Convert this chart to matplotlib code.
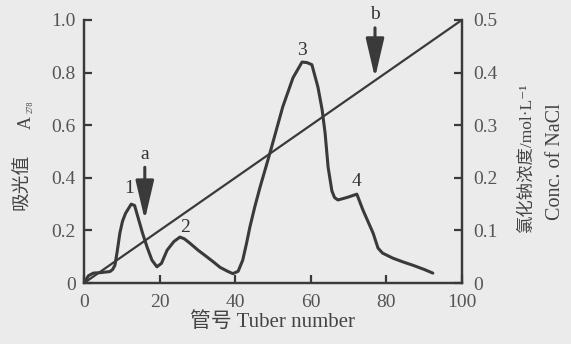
import matplotlib.pyplot as plt

# elution profile: absorbance of each tube
tube = [0, 1.2, 2.5, 4.5, 6.9, 7.6, 8.2, 8.8, 9.5, 10.2, 11.0, 12.5, 13.4, 14.3, 15.5,
        16.7, 18.0, 19.3, 20.5, 22.0, 23.8, 25.4, 26.6, 28.0, 30.2, 32.5, 34.3, 36.0,
        38.0, 39.4, 40.8, 42.0, 43.0, 43.9, 45.2, 46.6, 49.2, 52.6, 55.3, 57.7, 59.0,
        60.3, 61.9, 63.0, 63.8, 64.6, 65.6, 66.3, 67.2, 69.5, 72.2, 73.8, 76.5, 77.8,
        79.0, 81.7, 84.5, 87.0, 90.0, 92.3]
absorb = [0.0, 0.028, 0.038, 0.040, 0.044, 0.052, 0.068, 0.12, 0.19, 0.235, 0.265, 0.30,
          0.295, 0.25, 0.19, 0.137, 0.087, 0.062, 0.075, 0.125, 0.158, 0.175, 0.168,
          0.152, 0.125, 0.10, 0.08, 0.06, 0.045, 0.036, 0.045, 0.087, 0.15, 0.213, 0.29,
          0.365, 0.494, 0.67, 0.78, 0.84, 0.838, 0.83, 0.745, 0.66, 0.57, 0.44, 0.35,
          0.325, 0.316, 0.325, 0.338, 0.278, 0.19, 0.133, 0.114, 0.095, 0.08, 0.068,
          0.052, 0.038]

# NaCl gradient
grad_tube = [0, 100]
grad_conc = [0.0, 0.5]

peak_names = ['1', '2', '3', '4']
peak_x = [11.9, 26.7, 57.7, 72.0]
peak_y = [0.36, 0.21, 0.885, 0.385]

arrow_names = ['a', 'b']
arrow_x = [16.1, 77.0]
arrow_tip = [0.24, 0.78]
arrow_top = [0.44, 0.97]

ink = '#3a3a3a'
paper = '#ebebeb'
serif = ['Liberation Serif', 'Noto Sans CJK SC', 'DejaVu Sans']

fig = plt.figure(figsize=(5.71, 3.44), dpi=100, facecolor=paper)
ax = fig.add_axes([0.147, 0.177, 0.662, 0.765])
ax.set_facecolor(paper)
ax2 = ax.twinx()

ax.plot(tube, absorb, color=ink, lw=2.2, solid_joinstyle='round', solid_capstyle='round')
ax2.plot(grad_tube, grad_conc, color=ink, lw=1.6)

ax.set_xlim(0, 100)
ax.set_ylim(0, 1.0)
ax2.set_ylim(0, 0.5)

for a in (ax, ax2):
    a.spines['top'].set_visible(False)
    for s in ('left', 'right', 'bottom'):
        a.spines[s].set_color(ink)
        a.spines[s].set_linewidth(1.6)

ax.set_xticks([0, 20, 40, 60, 80, 100])
ax.set_yticks([0, 0.2, 0.4, 0.6, 0.8, 1.0])
ax.set_yticklabels(['0', '0.2', '0.4', '0.6', '0.8', '1.0'])
ax2.set_yticks([0, 0.1, 0.2, 0.3, 0.4, 0.5])
ax2.set_yticklabels(['0', '0.1', '0.2', '0.3', '0.4', '0.5'])

ax.tick_params(axis='both', direction='in', length=6, width=1.6, color=ink,
               labelcolor='#555555', labelsize=14)
ax.tick_params(axis='y', pad=6)
ax.tick_params(axis='x', pad=8)
ax2.tick_params(axis='y', direction='in', length=6, width=1.6, color=ink,
                labelcolor='#555555', labelsize=14, pad=8)
for lbl in ax.get_xticklabels() + ax.get_yticklabels() + ax2.get_yticklabels():
    lbl.set_family(serif)

ax.set_xlabel('管号 Tuber number', family=serif, fontsize=15, color='#444444', labelpad=1)

# left axis title, with a small 278 subscript next to the A
fig.text(0.040, 0.47, '吸光值', rotation=90, ha='center', va='center',
         family=serif, fontsize=13.5, color='#444444')
fig.text(0.046, 0.643, 'A', rotation=90, ha='center', va='center',
         family=serif, fontsize=13, color='#444444')
fig.text(0.054, 0.69, '278', rotation=90, ha='center', va='center',
         family=serif, fontsize=6, color='#444444')

fig.text(0.923, 0.54, '氯化钠浓度/mol·L⁻¹', rotation=90, ha='center', va='center',
         family=serif, fontsize=12.5, color='#444444')
fig.text(0.973, 0.53, 'Conc. of NaCl', rotation=90, ha='center', va='center',
         family=serif, fontsize=14.5, color='#444444')

for name, px, py in zip(peak_names, peak_x, peak_y):
    ax.text(px, py, name, ha='center', va='center', family=serif, fontsize=14, color='#333333')

for name, x, tip, top in zip(arrow_names, arrow_x, arrow_tip, arrow_top):
    ax.annotate('', xy=(x, tip), xytext=(x, top),
                arrowprops=dict(arrowstyle='-|>,head_width=0.28,head_length=1.2',
                                mutation_scale=20, lw=2.2, color=ink, shrinkA=0, shrinkB=0))
    ax.text(x, top + 0.05, name, ha='center', va='center', family=serif, fontsize=14,
            color='#333333', clip_on=False)

fig.savefig('out.png', dpi=100, facecolor=paper)
